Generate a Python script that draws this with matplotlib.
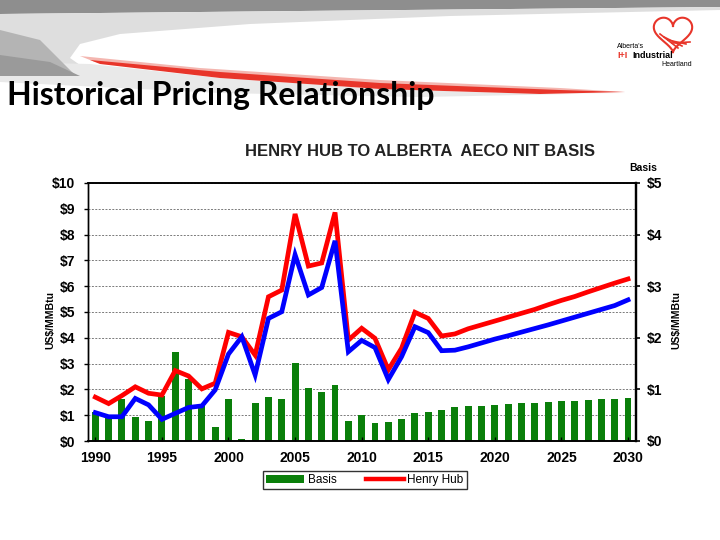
import numpy as np
import matplotlib
matplotlib.use("Agg")
import matplotlib.pyplot as plt
from matplotlib.patches import Polygon, Patch
from matplotlib.lines import Line2D

plt.rcParams['font.family'] = ['Liberation Sans', 'DejaVu Sans']

# ---- data ----
years = list(range(1990, 2031))

henry_hub = [1.70, 1.45, 1.76, 2.10, 1.85, 1.78, 2.73, 2.52, 2.02, 2.24,
             4.21, 4.04, 3.33, 5.59, 5.85, 8.80, 6.78, 6.90, 8.86, 3.91,
             4.37, 3.98, 2.76, 3.60, 4.99, 4.75, 4.07, 4.15, 4.35, 4.50,
             4.65, 4.80, 4.95, 5.10, 5.28, 5.45, 5.60, 5.78, 5.95, 6.12, 6.28]

aeco = [1.10, 0.94, 0.94, 1.65, 1.40, 0.84, 1.07, 1.30, 1.36, 1.98,
        3.37, 4.04, 2.56, 4.75, 5.01, 7.22, 5.66, 5.95, 7.76, 3.46,
        3.90, 3.62, 2.38, 3.27, 4.43, 4.20, 3.50, 3.52, 3.65, 3.80,
        3.95, 4.08, 4.22, 4.36, 4.50, 4.65, 4.80, 4.95, 5.10, 5.25, 5.47]

basis = [0.56, 0.46, 0.81, 0.46, 0.39, 0.87, 1.73, 1.21, 0.68, 0.27,
         0.81, 0.04, 0.74, 0.85, 0.81, 1.52, 1.02, 0.94, 1.09, 0.39,
         0.50, 0.34, 0.36, 0.43, 0.55, 0.56, 0.61, 0.65, 0.67, 0.68,
         0.69, 0.71, 0.73, 0.73, 0.75, 0.77, 0.77, 0.79, 0.81, 0.81, 0.83]

left_ticks = list(range(0, 11))
left_labels = [f"${v}" for v in left_ticks]
right_ticks = list(range(0, 6))
right_labels = [f"${v}" for v in right_ticks]
year_ticks = list(range(1990, 2031, 5))

W, H = 720, 540


def px(x, y):
    # pixel (top-left origin) -> figure fraction
    return (x / W, 1 - y / H)


fig = plt.figure(figsize=(7.2, 5.4), dpi=100)

# ---- slide header decoration ----
def poly(pts, color, z=0):
    fig.add_artist(Polygon([px(*p) for p in pts], closed=True, facecolor=color,
                           edgecolor='none', transform=fig.transFigure, zorder=z))

poly([(0, 0), (720, 0), (720, 7), (300, 11), (0, 14)], '#8e8e8e')
poly([(0, 14), (300, 11), (720, 7), (720, 10), (450, 16), (250, 24), (120, 34),
      (80, 44), (70, 58), (90, 72), (0, 76)], '#dedede')
# light shadow under the streak
poly([(0, 62), (90, 64), (220, 78), (380, 89), (540, 94), (625, 93), (420, 97),
      (220, 93), (0, 82)], '#e9e9e9')
poly([(0, 30), (40, 40), (75, 75), (0, 76)], '#b4b4b4')
poly([(0, 55), (50, 62), (80, 76), (0, 76)], '#9a9a9a')
poly([(80, 56), (200, 68), (380, 80), (560, 88), (625, 92), (540, 93),
      (380, 87), (220, 76), (95, 62)], '#f4b6b0')
poly([(90, 60), (220, 72), (380, 83), (560, 90), (625, 92), (540, 94),
      (380, 89), (220, 78), (100, 64)], '#e8352a')

# logo
t = np.linspace(0, 2 * np.pi, 200)
hx = 16 * np.sin(t) ** 3
hy = 13 * np.cos(t) - 5 * np.cos(2 * t) - 2 * np.cos(3 * t) - np.cos(4 * t)
fig.add_artist(Line2D([(673 + 1.2 * a) / W for a in hx],
                      [1 - (32 - 1.2 * b) / H for b in hy],
                      color='#e8352a', lw=1.5, transform=fig.transFigure))
for k in range(4):
    fig.add_artist(Line2D([(660 + 4 * k) / W, (678 + 4 * k) / W],
                          [1 - (34 + 3 * k) / H, 1 - (48 - 2 * k) / H],
                          color='#e8352a', lw=1.2, transform=fig.transFigure))
fig.text(*px(617, 47), "Alberta's", fontsize=5, va='center', ha='left')
fig.text(*px(617, 56), "I+I", fontsize=6.5, va='center', ha='left',
         color='#e8352a', fontweight='bold')
fig.text(*px(632, 56), "Industrial", fontsize=6.5, va='center', ha='left',
         fontweight='bold')
fig.text(*px(692, 64), "Heartland", fontsize=5, va='center', ha='right')

fig.text(*px(7, 96), "Historical Pricing Relationship", fontsize=23,
         fontweight='bold', family=['Lato', 'DejaVu Sans'], va='center', ha='left')

# ---- chart ----
ax = fig.add_axes([88 / W, 1 - 441 / H, (636 - 88) / W, (441 - 183) / H])
ax2 = ax.twinx()
ax.set_zorder(ax2.get_zorder() + 1)
ax.patch.set_visible(False)

ax2.bar(years, basis, width=0.52, color='#0a7f0a', zorder=2)
ax2.set_ylim(0, 5)
ax2.set_yticks(right_ticks)
ax2.set_yticklabels(right_labels, fontsize=10, fontweight='bold')
ax2.set_yticks(np.arange(0, 5.01, 0.5), minor=True)
ax2.yaxis.grid(True, which='both', color='#7a7a7a', linestyle=(0, (2, 1.5)), lw=0.7, zorder=0)
ax2.set_axisbelow(True)
ax2.tick_params(axis='y', which='major', direction='out', length=3, width=1.2, pad=5)
ax2.tick_params(axis='y', which='minor', length=0)

ax.plot(years, henry_hub, color='#ff0000', lw=3.4, solid_joinstyle='miter', zorder=3)
ax.plot(years, aeco, color='#0000ff', lw=3.4, solid_joinstyle='miter', zorder=4)
ax.set_ylim(0, 10)
ax.set_xlim(1989.45, 2030.6)
ax.set_yticks(left_ticks)
ax.set_yticklabels(left_labels, fontsize=10, fontweight='bold')
ax.set_xticks(year_ticks)
ax.set_xticklabels([str(y) for y in year_ticks], fontsize=10, fontweight='bold')
ax.tick_params(axis='y', direction='out', length=3, width=1, pad=6)
ax.tick_params(axis='x', direction='in', length=3, width=1, pad=7)

for a in (ax, ax2):
    a.spines['top'].set_linewidth(1.2)
    a.spines['bottom'].set_linewidth(1.2)
    a.spines['left'].set_linewidth(1.0)
    a.spines['right'].set_linewidth(1.6)

fig.text(*px(420, 152), "HENRY HUB TO ALBERTA  AECO NIT BASIS", fontsize=12,
         fontweight='bold', ha='center', va='center', color='#222222')
fig.text(*px(643, 168), "Basis", fontsize=7.5, fontweight='bold', ha='center', va='center')
fig.text(*px(50, 320), "US$/MMBtu", fontsize=7.5, fontweight='bold', rotation=90,
         ha='center', va='center')
fig.text(*px(676, 320), "US$/MMBtu", fontsize=7.5, fontweight='bold', rotation=90,
         ha='center', va='center')

handles = [Patch(facecolor='#0a7f0a', label='Basis'),
           Line2D([0], [0], color='#ff0000', lw=3.2, label='Henry Hub')]
leg = fig.legend(handles=handles, loc='center', bbox_to_anchor=px(365, 480), ncol=2,
                 fontsize=8.5, frameon=True, fancybox=False, edgecolor='black',
                 borderpad=0.25, handlelength=3.2, columnspacing=2.5, handletextpad=0.3)
leg.get_frame().set_linewidth(1.0)

fig.savefig("out.png", dpi=100)
